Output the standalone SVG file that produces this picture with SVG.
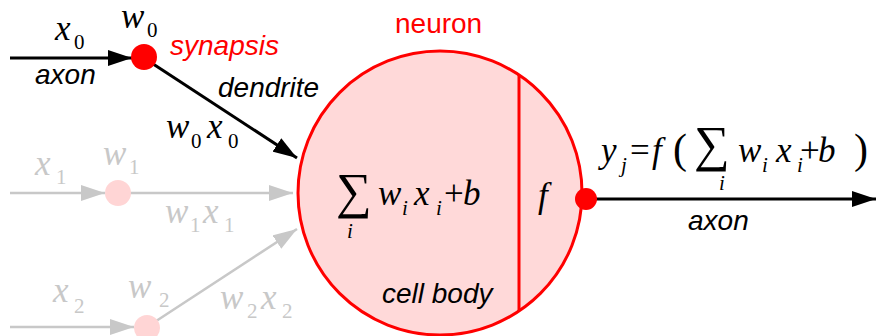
<svg xmlns="http://www.w3.org/2000/svg" width="876" height="336" viewBox="0 0 876 336">
<style>
.lbl{font-family:"Liberation Sans",Arial,sans-serif;font-style:italic;font-size:28px;fill:#000}
.nl{font-family:"Liberation Sans",Arial,sans-serif;font-size:28px;fill:#ff0000}
.m{font-family:"Liberation Serif","Times New Roman",serif;font-style:italic;font-size:35px;fill:#000}
.up{font-style:normal}
.s{font-family:"Liberation Serif","Times New Roman",serif;font-size:21px;fill:#000}
.si{font-style:italic}
.sig{font-family:"Liberation Serif","Times New Roman",serif;font-size:50px;fill:#000}
.par{font-family:"Liberation Serif","Times New Roman",serif;font-size:42px;fill:#000}
.g{fill:#c8c8c8}
.cb{stroke:#000;stroke-width:3;fill:none}
.cg{stroke:#c8c8c8;stroke-width:2.5;fill:none}
</style>
<defs>
<marker id="ab" markerUnits="userSpaceOnUse" markerWidth="24" markerHeight="16" refX="24" refY="8" orient="auto"><path d="M0,0 L24,8 L0,16 z" fill="#000"/></marker>
<marker id="ag" markerUnits="userSpaceOnUse" markerWidth="24" markerHeight="16" refX="24" refY="8" orient="auto"><path d="M0,0 L24,8 L0,16 z" fill="#c8c8c8"/></marker>
</defs>
<g id="connectors">
<line class="cb" x1="10" y1="58" x2="132" y2="58" marker-end="url(#ab)"/>
<line class="cb" x1="144" y1="58" x2="297" y2="158" marker-end="url(#ab)"/>
<line class="cg" x1="10" y1="193" x2="105" y2="193" marker-end="url(#ag)"/>
<line class="cg" x1="118" y1="193" x2="293" y2="193" marker-end="url(#ag)"/>
<line class="cg" x1="10" y1="327" x2="134" y2="327" marker-end="url(#ag)"/>
<line class="cg" x1="147" y1="327" x2="297" y2="229" marker-end="url(#ag)"/>
<line class="cb" x1="586" y1="199" x2="876" y2="199" marker-end="url(#ab)"/>
</g>
<g id="neuron">
<circle cx="440" cy="193" r="142" fill="#ffd9d9" stroke="#ff0000" stroke-width="3"/>
<line x1="519" y1="75" x2="519" y2="311" stroke="#ff0000" stroke-width="3"/>
<text class="nl" x="395" y="33">neuron</text>
<text class="sig" x="336" y="208">∑</text>
<text class="s si" x="347" y="238">i</text>
<text class="m" x="378" y="205">w</text>
<text class="s si" x="402" y="215">i</text>
<text class="m" x="414" y="205">x</text>
<text class="s si" x="436" y="215">i</text>
<text class="m up" x="444" y="205">+</text>
<text class="m" x="463" y="205">b</text>
<text class="m" x="538" y="207">f</text>
<text class="lbl" x="382" y="303">cell body</text>
</g>
<g id="synapse0">
<circle cx="144" cy="57" r="13" fill="#ff0000"/>
<text class="m" x="55" y="40">x</text>
<text class="s" x="74" y="49">0</text>
<text class="m" x="121" y="28">w</text>
<text class="s" x="147" y="37">0</text>
<text class="lbl" x="35" y="84">axon</text>
<text class="lbl" x="170" y="55" style="fill:#ff0000">synapsis</text>
<text class="lbl" x="218" y="97">dendrite</text>
<text class="m" x="166" y="138">w</text>
<text class="s" x="191" y="148">0</text>
<text class="m" x="207" y="138">x</text>
<text class="s" x="228" y="148">0</text>
</g>
<g id="synapse1">
<circle cx="118" cy="193" r="13" fill="#ffd5d5"/>
<text class="m g" x="35" y="175">x</text>
<text class="s g" x="56" y="184">1</text>
<text class="m g" x="103" y="165">w</text>
<text class="s g" x="129" y="174">1</text>
<text class="m g" x="165" y="223">w</text>
<text class="s g" x="190" y="232">1</text>
<text class="m g" x="203" y="223">x</text>
<text class="s g" x="224" y="232">1</text>
</g>
<g id="synapse2">
<circle cx="147" cy="328" r="13" fill="#ffd5d5"/>
<text class="m g" x="53" y="302">x</text>
<text class="s g" x="74" y="313">2</text>
<text class="m g" x="128" y="298">w</text>
<text class="s g" x="159" y="307">2</text>
<text class="m g" x="220" y="309">w</text>
<text class="s g" x="247" y="318">2</text>
<text class="m g" x="261" y="309">x</text>
<text class="s g" x="282" y="318">2</text>
</g>
<g id="output">
<circle cx="586" cy="199" r="11" fill="#ff0000"/>
<text class="m" x="601" y="162">y</text>
<text class="s si" x="621" y="172">j</text>
<text class="m up" x="630" y="162">=</text>
<text class="m" x="652" y="162">f</text>
<text class="par" x="673" y="163">(</text>
<text class="sig" x="694" y="161">∑</text>
<text class="s si" x="719" y="190">i</text>
<text class="m" x="738" y="162">w</text>
<text class="s si" x="762" y="172">i</text>
<text class="m" x="776" y="162">x</text>
<text class="s si" x="797" y="172">i</text>
<text class="m up" x="800" y="162">+</text>
<text class="m" x="818" y="162">b</text>
<text class="par" x="854" y="163">)</text>
<text class="lbl" x="688" y="230">axon</text>
</g>
</svg>
